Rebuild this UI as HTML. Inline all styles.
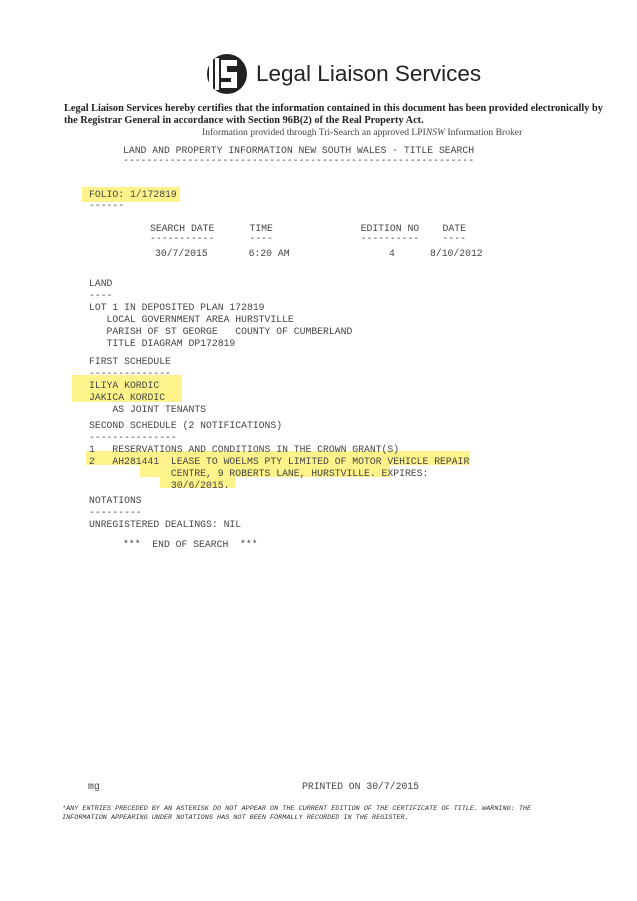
<!DOCTYPE html>
<html><head><style>
body{margin:0;width:637px;height:901px;background:#fff;position:relative;overflow:hidden}
.m{position:absolute;font-family:"Liberation Mono",monospace;font-size:9.75px;color:#444;white-space:pre;line-height:12px}
.hl{position:absolute;background:#fdf38a}
.s{position:absolute;font-family:"Liberation Serif",serif;white-space:nowrap}
</style></head><body>
<div class="hl" style="left:82px;top:187px;width:98px;height:15px"></div>
<div class="hl" style="left:72px;top:375px;width:110px;height:27px"></div>
<div class="hl" style="left:86px;top:451px;width:384px;height:14px"></div>
<div class="hl" style="left:140px;top:464px;width:250px;height:13px"></div>
<div class="hl" style="left:160px;top:476px;width:75px;height:12px"></div>

<svg style="position:absolute;left:205px;top:52px" width="50" height="44" viewBox="0 0 50 44">
<circle cx="22" cy="22" r="20" fill="#222"/>
<rect x="4" y="6" width="4" height="32" fill="#fff"/>
<rect x="10" y="6" width="4" height="32" fill="#fff"/>
<path d="M16 8 h16 v6 h-10 v6 h10 v16 h-16 v-6 h10 v-4 h-10 z" fill="#fff"/>
</svg>
<div class="s" style="left:256px;top:61px;font-family:'Liberation Sans',sans-serif;font-size:22.5px;color:#222">Legal Liaison Services</div>
<div class="s" style="left:64px;top:103px;font-size:10.3px;font-weight:bold;color:#222">Legal Liaison Services hereby certifies that the information contained in this document has been provided electronically by</div>
<div class="s" style="left:64px;top:115px;font-size:10.3px;font-weight:bold;color:#222">the Registrar General in accordance with Section 96B(2) of the Real Property Act.</div>
<div class="s" style="left:202px;top:127px;font-size:9.6px;color:#444">Information provided through Tri-Search an approved LPI<i>NSW</i> Information Broker</div>

<div class="m" style="left:123px;top:145px">LAND AND PROPERTY INFORMATION NEW SOUTH WALES - TITLE SEARCH</div>
<div class="m" style="left:123px;top:155px">------------------------------------------------------------</div>

<div class="m" style="left:89px;top:189px">FOLIO: 1/172819</div>
<div class="m" style="left:89px;top:200px">------</div>

<div class="m" style="left:150px;top:223px">SEARCH DATE      TIME               EDITION NO    DATE</div>
<div class="m" style="left:150px;top:233px">-----------      ----               ----------    ----</div>
<div class="m" style="left:155px;top:248px">30/7/2015       6:20 AM                 4      8/10/2012</div>

<div class="m" style="left:89px;top:278px">LAND
----
LOT 1 IN DEPOSITED PLAN 172819
   LOCAL GOVERNMENT AREA HURSTVILLE
   PARISH OF ST GEORGE   COUNTY OF CUMBERLAND
   TITLE DIAGRAM DP172819</div>
<div class="m" style="left:89px;top:356px">FIRST SCHEDULE
--------------
ILIYA KORDIC
JAKICA KORDIC
    AS JOINT TENANTS</div>
<div class="m" style="left:89px;top:420px">SECOND SCHEDULE (2 NOTIFICATIONS)
---------------
1   RESERVATIONS AND CONDITIONS IN THE CROWN GRANT(S)
2   AH281441  LEASE TO WOELMS PTY LIMITED OF MOTOR VEHICLE REPAIR
              CENTRE, 9 ROBERTS LANE, HURSTVILLE. EXPIRES:
              30/6/2015.</div>
<div class="m" style="left:89px;top:495px">NOTATIONS
---------
UNREGISTERED DEALINGS: NIL</div>
<div class="m" style="left:123px;top:539px">***  END OF SEARCH  ***</div>

<div class="m" style="left:88px;top:781px">mg</div>
<div class="m" style="left:302px;top:781px">PRINTED ON 30/7/2015</div>
<div class="m" style="left:62px;top:805px;font-size:6.8px;line-height:9px;font-style:italic;color:#333">*ANY ENTRIES PRECEDED BY AN ASTERISK DO NOT APPEAR ON THE CURRENT EDITION OF THE CERTIFICATE OF TITLE. WARNING: THE
INFORMATION APPEARING UNDER NOTATIONS HAS NOT BEEN FORMALLY RECORDED IN THE REGISTER.</div>
</body></html>
